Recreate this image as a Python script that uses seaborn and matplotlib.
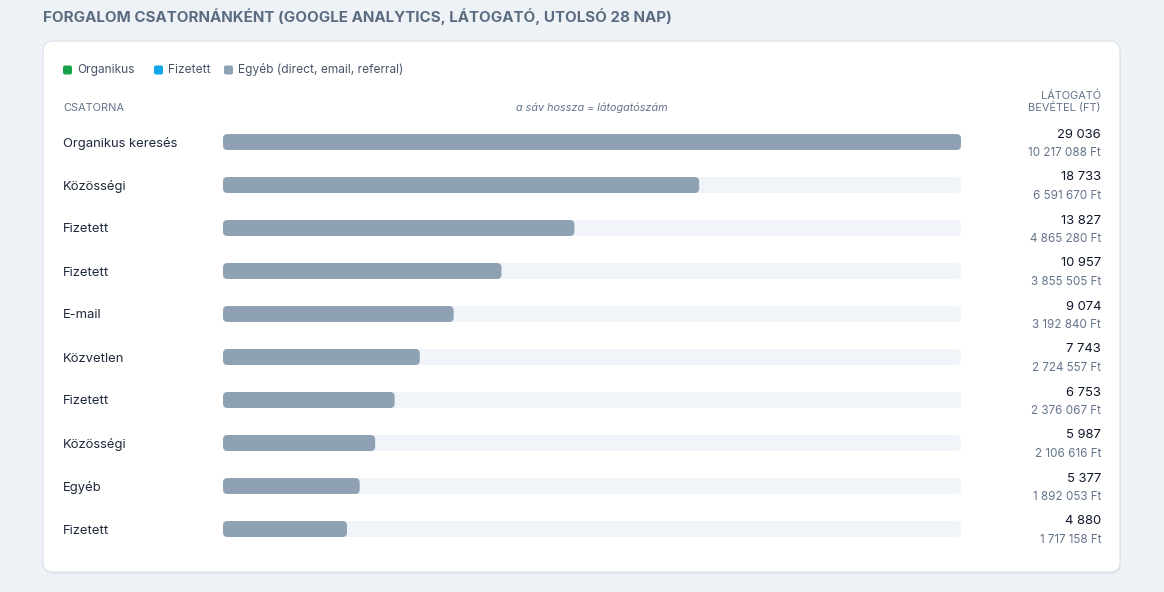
import numpy as np
import pandas as pd
import matplotlib
matplotlib.use('Agg')
import matplotlib.pyplot as plt
import matplotlib.transforms as mtransforms
from matplotlib.patches import FancyBboxPatch
import seaborn as sns

channels = ["Organikus keresés", "Közösségi", "Fizetett", "Fizetett", "E-mail",
            "Közvetlen", "Fizetett", "Közösségi", "Egyéb", "Fizetett"]
visitors = [29036, 18733, 13827, 10957, 9074, 7743, 6753, 5987, 5377, 4880]
revenue = [10217088, 6591670, 4865280, 3855505, 3192840,
           2724557, 2376067, 2106616, 1892053, 1717158]
legend_names = ["Organikus", "Fizetett", "Egyéb (direct, email, referral)"]
legend_colors = ["#16a34a", "#0ea5e9", "#8fa3b4"]

def fmt(n):
    return f"{n:,}".replace(",", " ")

W, H = 1164, 592
sns.set_theme(style="white")
plt.rcParams['font.family'] = ['Inter', 'DejaVu Sans']

fig = plt.figure(figsize=(W / 100, H / 100), dpi=100, facecolor="#eef2f6")

def fx(px):
    return px / W

def fy(py):
    return 1 - py / H

# card
shadow = FancyBboxPatch((fx(43), fy(574)), fx(1121) - fx(43), fy(42) - fy(574),
                        boxstyle="round,pad=0,rounding_size=%f" % fx(11),
                        mutation_aspect=W / H, transform=fig.transFigure,
                        facecolor="#dde3ea", edgecolor="none", zorder=-3)
card = FancyBboxPatch((fx(43), fy(572)), fx(1120) - fx(43), fy(41) - fy(572),
                      boxstyle="round,pad=0,rounding_size=%f" % fx(10),
                      mutation_aspect=W / H, transform=fig.transFigure,
                      facecolor="white", edgecolor="#dfe5ec", linewidth=1, zorder=-2)
fig.patches.extend([shadow, card])

fig.text(fx(43), fy(17), "FORGALOM CSATORNÁNKÉNT (GOOGLE ANALYTICS, LÁTOGATÓ, UTOLSÓ 28 NAP)",
         fontsize=10.9, fontweight="bold", color="#5a6b80", va="center", ha="left")

# legend
lx = [63, 154, 224]
for x, name, col in zip(lx, legend_names, legend_colors):
    sq = FancyBboxPatch((fx(x), fy(74.5)), fx(9), fy(65.5) - fy(74.5),
                        boxstyle="round,pad=0,rounding_size=%f" % fx(2),
                        mutation_aspect=W / H, transform=fig.transFigure,
                        facecolor=col, edgecolor="none")
    fig.patches.append(sq)
    fig.text(fx(x + 14), fy(70), name, fontsize=8.6, color="#475569", va="center", ha="left")

# headers
hc = "#64748b"
fig.text(fx(63), fy(108), "CSATORNA", fontsize=7.9, color=hc, va="center", ha="left")
fig.text(fx(592), fy(108), "a sáv hossza = látogatószám", fontsize=7.8, color=hc,
         style="italic", va="center", ha="center")
fig.text(fx(1101), fy(96), "LÁTOGATÓ", fontsize=7.9, color=hc, va="center", ha="right")
fig.text(fx(1101), fy(108), "BEVÉTEL (FT)", fontsize=7.9, color=hc, va="center", ha="right")

# bars axis
top, bottom = 120.5, 550.5
ax = fig.add_axes([fx(223), fy(bottom), fx(961) - fx(223), (bottom - top) / H])
ax.set_facecolor("none")

df = pd.DataFrame({"row": [str(i) for i in range(len(channels))], "channel": channels,
                   "visitors": visitors, "track": [max(visitors)] * len(channels)})
bh = 16 / 43
sns.barplot(data=df, y="row", x="track", color="#f1f5f9", width=bh, ax=ax,
            saturation=1, edgecolor="none")
sns.barplot(data=df, y="row", x="visitors", color="#8ea2b3", width=bh, ax=ax,
            saturation=1, edgecolor="none")
ax.set_xlim(0, max(visitors))
ax.set_ylim(len(channels) - 0.5, -0.5)

# round the bar ends
ax_w = 961 - 223
ax_h = bottom - top
xu = max(visitors) / ax_w
yu = len(channels) / ax_h
r = 4.5
for p in list(ax.patches):
    x0, y0, w, h = p.get_x(), p.get_y(), p.get_width(), p.get_height()
    rp = FancyBboxPatch((x0, y0), w, h,
                        boxstyle="round,pad=0,rounding_size=%f" % (r * xu),
                        mutation_aspect=yu / xu, facecolor=p.get_facecolor(),
                        edgecolor="none", zorder=p.get_zorder())
    p.remove()
    ax.add_patch(rp)

ax.set_xlabel("")
ax.set_ylabel("")
ax.set_xticks([])
ax.set_yticks([])
sns.despine(ax=ax, left=True, bottom=True)

tr = mtransforms.blended_transform_factory(fig.transFigure, ax.transData)
offs0 = mtransforms.ScaledTranslation(0, -1.5 / 100, fig.dpi_scale_trans)
offs = mtransforms.ScaledTranslation(0, 7.5 / 100, fig.dpi_scale_trans)
offs2 = mtransforms.ScaledTranslation(0, -11 / 100, fig.dpi_scale_trans)
for i, (c, v, rev) in enumerate(zip(channels, visitors, revenue)):
    ax.text(fx(63), i, c, transform=tr + offs0, fontsize=9.4, color="#1e293b",
            va="center", ha="left")
    ax.text(fx(1101), i, fmt(v), transform=tr + offs, fontsize=9.4, color="#0f172a",
            va="center", ha="right")
    ax.text(fx(1101), i, fmt(rev) + " Ft", transform=tr + offs2, fontsize=8.4, color="#64748b",
            va="center", ha="right")

fig.savefig("out.png", dpi=100, facecolor=fig.get_facecolor())
